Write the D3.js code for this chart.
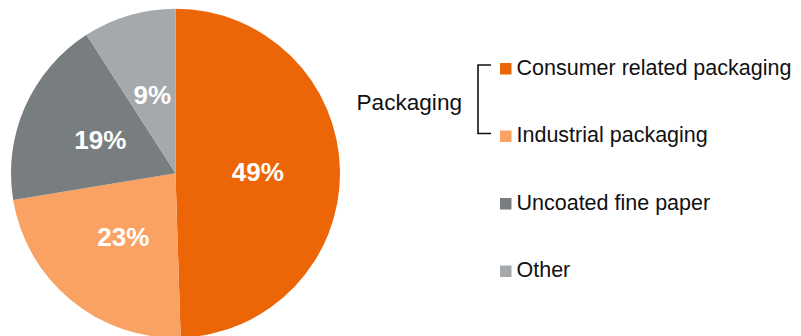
<!DOCTYPE html>
<html><head><meta charset="utf-8">
<script src="https://cdn.jsdelivr.net/npm/d3@7"></script>
<style>html,body{margin:0;padding:0;background:#fff;}svg{display:block;}</style>
</head><body>
<svg id="chart" width="801" height="336"></svg>
<script>
const categories = ["Consumer related packaging", "Industrial packaging", "Uncoated fine paper", "Other"];
const values = [49.5, 22.9, 18.5, 9.1];
const valueLabels = ["49%", "23%", "19%", "9%"];
const colors = ["#EC6608", "#F9A263", "#787E80", "#A5A9AB"];
const groupLabel = "Packaging";

const svg = d3.select("#chart");
const cx = 175.5, cy = 173.2, r = 164.5;
const font = "'Liberation Sans', Arial, sans-serif";

const pie = d3.pie().sort(null).value(d => d)(values);
const arc = d3.arc().innerRadius(0).outerRadius(r);
const labelArc = d3.arc().innerRadius(r * 0.5).outerRadius(r * 0.5);

const g = svg.append("g").attr("transform", `translate(${cx},${cy})`);
g.selectAll("path").data(pie).join("path")
  .attr("d", arc).attr("fill", (d, i) => colors[i]);
g.selectAll("text").data(pie).join("text")
  .attr("transform", d => `translate(${labelArc.centroid(d)})`)
  .attr("text-anchor", "middle").attr("dy", "0.36em")
  .attr("fill", "#fff").attr("font-family", font).attr("font-weight", "bold")
  .attr("font-size", 26).text((d, i) => valueLabels[i]);

// legend
const legY = d3.scalePoint().domain(categories).range([74.5, 277]);
const leg = svg.append("g");
const items = leg.selectAll("g").data(categories).join("g")
  .attr("transform", d => `translate(500,${legY(d)})`);
items.append("rect").attr("x", 0).attr("y", -11.5).attr("width", 11.5).attr("height", 11.5)
  .attr("fill", (d, i) => colors[i]);
items.append("text").attr("x", 16.5).attr("y", 0)
  .attr("font-family", font).attr("font-size", 21.5).attr("fill", "#111")
  .text(d => d);

// bracket
const yTop = legY(categories[0]) - 9.5, yBot = legY(categories[1]) - 8.5;
svg.append("path")
  .attr("d", `M491,${yTop}H478V${yBot}H491`)
  .attr("fill", "none").attr("stroke", "#111").attr("stroke-width", 1.6);
svg.append("text").attr("x", 356.5).attr("y", 110)
  .attr("font-family", font).attr("font-size", 22.6).attr("fill", "#111")
  .text(groupLabel);
</script>
</body></html>
